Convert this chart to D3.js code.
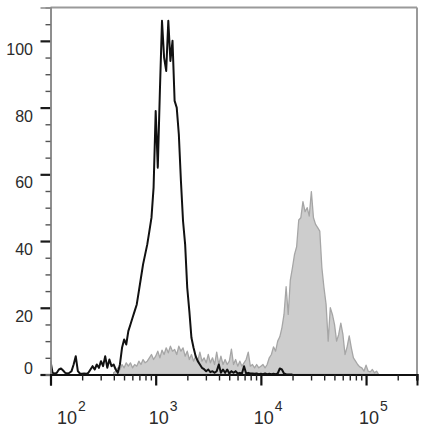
<!DOCTYPE html>
<html>
<head>
<meta charset="utf-8">
<script src="https://cdn.jsdelivr.net/npm/d3@7"></script>
<style>
  html, body { margin: 0; padding: 0; background: #fff; }
  svg { display: block; }
  text { font-family: "Liberation Sans", Arial, sans-serif; fill: #2b2b2b; }
</style>
</head>
<body>
<svg id="chart" width="426" height="428"></svg>
<script>
// ---- data ----
const binStep = 0.02;              // bin width in log10 units
const blackStartLog = 2.0;         // log10 of first black bin
const blackCounts = [
  4, 0.5, 0.3, 0.5, 1.5, 1.8, 1.2, 0.5, 0.3, 0.5,
  1, 3, 5.5, 1, 0.3, 0.2, 0.3, 0.2, 0.5, 1.5,
  2.5, 1.5, 3, 2, 4, 2.5, 5.5, 2, 4.5, 2.5,
  3, 1.5, 0.5, 3, 8, 10.5, 9, 13, 15, 17,
  19, 21, 25, 29, 33, 36, 39, 43, 47, 56,
  79, 62, 85, 106, 95, 91, 106, 94, 100, 82,
  80, 72, 58, 46, 39, 26, 19, 11, 8, 5.5,
  4, 3, 2, 1.6, 1, 1.5, 0.7, 1, 0.5, 1,
  3, 0.5, 1.5, 0.5, 1.5, 0.3, 1, 0.5, 1, 0.3,
  0.5, 0.3, 2.5, 0.3, 0.5, 0.3, 0.3, 0.2, 0.3, 0.1,
  0.2, 0.1, 0.3, 0.1, 0.2, 0.1, 0.2, 0.1, 0.3, 1.8,
  1.5, 0.3, 0.1, 0, 0, 0
];
const grayStartLog = 2.6;          // log10 of first gray bin
const grayCounts = [
  0.5, 1, 2, 1.5, 3, 2, 3.5, 2.5, 3.5, 2,
  3, 2.5, 4, 3, 4.5, 3.5, 4, 5, 6, 4.5,
  5.5, 7, 5, 7.3, 6, 8, 6.5, 8.5, 7, 7.5,
  6, 8.5, 7, 8, 5.5, 7, 4.5, 6, 4, 5.5,
  4, 6.7, 4, 5, 3.5, 6, 3.5, 5, 3, 6.7,
  3, 5.5, 3, 4.5, 3, 4, 7.6, 3, 4.5, 2.5,
  4, 2.5, 3.5, 4.5, 6.7, 2.5, 3, 2, 3, 2,
  2.5, 3, 2, 3, 5, 6, 8.3, 7, 10, 11.3,
  14, 18, 26.3, 18, 28.3, 32, 36, 38.3, 46.3, 47,
  51.8, 48.8, 50, 47.5, 54.8, 47, 45, 44, 43, 32,
  26, 21, 10, 20, 18, 15, 10, 12, 15.4, 12,
  6, 8.3, 11.6, 8, 5, 4, 3, 2.3, 2, 1,
  2.8, 1, 0.8, 1.5, 0.5, 1, 0
];
const yMajorTicks = [0, 20, 40, 60, 80, 100];
const yMinorTicks = [5, 10, 15, 25, 30, 35, 45, 50, 55, 65, 70, 75, 85, 90, 95, 105];
const xMajorTicks = [1e2, 1e3, 1e4, 1e5];
const xMajorExponents = ["2", "3", "4", "5"];
const xMinorTicks = [2e2,3e2,4e2,5e2,6e2,7e2,8e2,9e2,
                     2e3,3e3,4e3,5e3,6e3,7e3,8e3,9e3,
                     2e4,3e4,4e4,5e4,6e4,7e4,8e4,9e4,
                     2e5,3e5];
const xDomain = [100, 305000];
const yDomain = [0, 110];

// ---- layout ----
const svg = d3.select("#chart");
const L = 50.5, R = 417, T = 7.5, B = 374.5;
const x = d3.scaleLog().domain(xDomain).range([L, R]);
const y = d3.scaleLinear().domain(yDomain).range([B, T]);

const toBins = (start, counts) =>
  counts.map((c, i) => ({ v: Math.pow(10, start + i * binStep), c }));
const blackBins = toBins(blackStartLog, blackCounts);
const grayBins = toBins(grayStartLog, grayCounts);

svg.append("defs").append("clipPath").attr("id", "clip")
  .append("rect").attr("x", L).attr("y", T).attr("width", R - L).attr("height", B - T);

const plot = svg.append("g").attr("clip-path", "url(#clip)");

// gray filled histogram
plot.append("path")
  .datum(grayBins)
  .attr("d", d3.area().x(d => x(d.v)).y0(y(0)).y1(d => y(d.c)))
  .attr("fill", "#cdcdcd")
  .attr("stroke", "#a6a6a6")
  .attr("stroke-width", 1.3)
  .attr("stroke-linejoin", "round");

// black line histogram
plot.append("path")
  .datum(blackBins)
  .attr("d", d3.line().x(d => x(d.v)).y(d => y(d.c)))
  .attr("fill", "none")
  .attr("stroke", "#111")
  .attr("stroke-width", 2)
  .attr("stroke-linejoin", "round");

// frame: top & right gray
svg.append("line").attr("x1", L).attr("x2", R).attr("y1", T).attr("y2", T)
  .attr("stroke", "#9a9a9a").attr("stroke-width", 2);
svg.append("line").attr("x1", R).attr("x2", R).attr("y1", T).attr("y2", B)
  .attr("stroke", "#9a9a9a").attr("stroke-width", 2);

// y axis
const yMajor = svg.append("g").attr("transform", `translate(${L},0)`)
  .call(d3.axisLeft(y).tickValues(yMajorTicks).tickSize(10).tickFormat(""));
const yMinor = svg.append("g").attr("transform", `translate(${L},0)`)
  .call(d3.axisLeft(y).tickValues(yMinorTicks).tickSize(5).tickFormat(""));
[yMajor, yMinor].forEach(g => {
  g.select(".domain").attr("stroke", "#8a8a8a").attr("stroke-width", 1.6);
});
yMajor.selectAll(".tick line").attr("stroke", "#1a1a1a").attr("stroke-width", 2.2);
yMinor.selectAll(".tick line").attr("stroke", "#555").attr("stroke-width", 1.4);

svg.append("g").selectAll("text").data(yMajorTicks).join("text")
  .attr("x", 33)
  .attr("y", d => d === 0 ? y(d) - 0.5 : y(d) + 14)
  .attr("text-anchor", "end")
  .attr("font-size", 16)
  .text(d => d);

// x axis
const xMajor = svg.append("g").attr("transform", `translate(0,${B})`)
  .call(d3.axisBottom(x).tickValues(xMajorTicks).tickSize(11).tickFormat(""));
const xMinor = svg.append("g").attr("transform", `translate(0,${B})`)
  .call(d3.axisBottom(x).tickValues(xMinorTicks).tickSize(6).tickFormat(""));
[xMajor, xMinor].forEach(g => {
  g.select(".domain").attr("stroke", "#111").attr("stroke-width", 2);
});
xMajor.selectAll(".tick line").attr("stroke", "#111").attr("stroke-width", 2.2);
xMinor.selectAll(".tick line").attr("stroke", "#222").attr("stroke-width", 1.4);

const xl = svg.append("g").selectAll("g").data(xMajorTicks).join("g")
  .attr("transform", d => `translate(${Math.max(x(d) + 3, 67)},0)`);
xl.append("text")
  .attr("x", 0).attr("y", 424)
  .attr("text-anchor", "middle")
  .attr("font-size", 18)
  .text("10");
xl.append("text")
  .attr("x", 11).attr("y", 411)
  .attr("text-anchor", "start")
  .attr("font-size", 14)
  .text((d, i) => xMajorExponents[i]);
</script>
</body>
</html>
